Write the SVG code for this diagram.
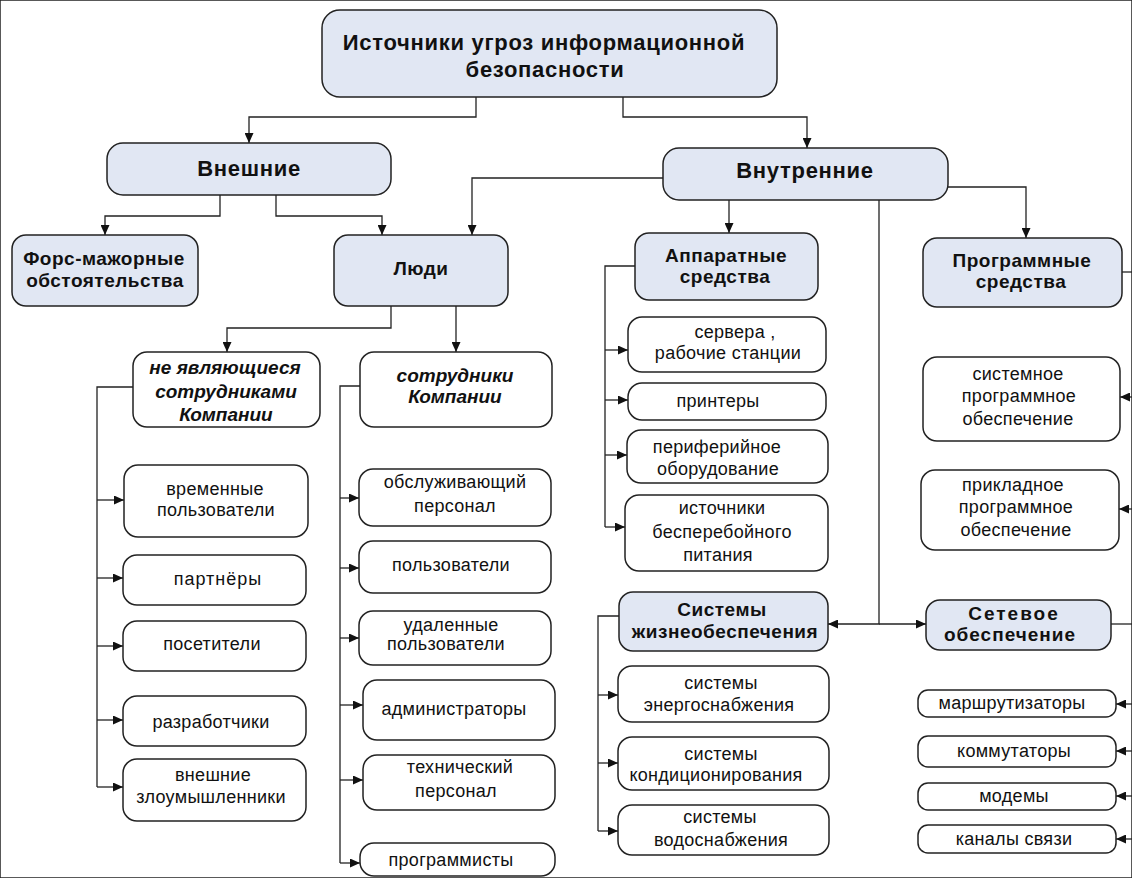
<svg xmlns="http://www.w3.org/2000/svg" width="1132" height="878" viewBox="0 0 1132 878">
<defs>
<marker id="ah" markerUnits="userSpaceOnUse" markerWidth="11" markerHeight="9" refX="10" refY="4.5" orient="auto">
<path d="M0,0 L10,4.5 L0,9 z" fill="#111"/>
</marker>
<style>
rect{stroke:#222;stroke-width:1.5}
.b{fill:#e1e7f3}
.w{fill:#fff}
text{font-family:"Liberation Sans",Arial,sans-serif;fill:#111;text-anchor:middle}
.t{font-size:18px;letter-spacing:0.3px}
.h{font-size:19px;font-weight:bold;letter-spacing:0.5px}
.H{font-size:22px;font-weight:bold;letter-spacing:0.7px}
.i{font-size:19px;font-weight:bold;font-style:italic}
#connectors path{fill:none;stroke:#222;stroke-width:1.3}
#connectors .a{marker-end:url(#ah)}
</style>
</defs>
<rect width="1132" height="878" fill="#fff" stroke="none"/>

<g id="connectors">
<path class="a" d="M476,97 V117 H249 V143"/>
<path class="a" d="M623,97 V117 H807 V148"/>
<path class="a" d="M220,195 V216 H105 V235"/>
<path class="a" d="M276,195 V216 H382 V235"/>
<path class="a" d="M663,178 H472 V235"/>
<path class="a" d="M729,200 V233"/>
<path class="a" d="M948,187 H1026 V238"/>
<path class="a" d="M879,200 V624 H828"/>
<path class="a" d="M879,624 H926"/>
<path class="a" d="M391,306 V328 H227 V352"/>
<path class="a" d="M456,306 V352"/>
<path d="M133,387 H97 V787"/>
<path class="a" d="M97,500 H124"/>
<path class="a" d="M97,578 H123"/>
<path class="a" d="M97,646 H123"/>
<path class="a" d="M97,720 H123"/>
<path class="a" d="M97,787 H123"/>
<path d="M360,386 H340 V863"/>
<path class="a" d="M340,498 H359"/>
<path class="a" d="M340,568 H359"/>
<path class="a" d="M340,638 H359"/>
<path class="a" d="M340,705 H363"/>
<path class="a" d="M340,780 H363"/>
<path class="a" d="M340,863 H360"/>
<path d="M635,266 H605 V527"/>
<path class="a" d="M605,350 H628"/>
<path class="a" d="M605,400 H628"/>
<path class="a" d="M605,455 H627"/>
<path class="a" d="M605,527 H625"/>
<path d="M619,616 H598 V831"/>
<path class="a" d="M598,695 H618"/>
<path class="a" d="M598,763 H618"/>
<path class="a" d="M598,831 H618"/>
<path d="M1122,272 H1132"/>
<path class="a" d="M1132,397 H1120"/>
<path class="a" d="M1132,509 H1119"/>
<path d="M1111,624 H1132"/>
<path class="a" d="M1132,704 H1116"/>
<path class="a" d="M1132,751 H1116"/>
<path class="a" d="M1132,796 H1116"/>
<path class="a" d="M1132,839 H1116"/>
</g>

<g id="root"><rect class="b" x="322" y="10" width="455" height="87" rx="18"/>
<text class="H" x="544" y="50">Источники угроз информационной</text>
<text class="H" x="545" y="77">безопасности</text></g>

<g id="vneshnie"><rect class="b" x="107" y="143" width="284" height="52" rx="16"/>
<text class="H" x="249" y="176">Внешние</text></g>

<g id="vnutrennie"><rect class="b" x="663" y="148" width="285" height="52" rx="16"/>
<text class="H" x="805" y="178">Внутренние</text></g>

<g id="fors"><rect class="b" x="12" y="235" width="186" height="71" rx="14"/>
<text class="h" x="104" y="265">Форс-мажорные</text>
<text class="h" x="105" y="287">обстоятельства</text></g>

<g id="lyudi"><rect class="b" x="334" y="235" width="174" height="71" rx="14"/>
<text class="h" x="421" y="275">Люди</text></g>

<g id="apparatnye"><rect class="b" x="635" y="233" width="183" height="67" rx="14"/>
<text class="h" x="726" y="262">Аппаратные</text>
<text class="h" x="725" y="283">средства</text></g>

<g id="programmnye"><rect class="b" x="923" y="238" width="199" height="69" rx="14"/>
<text class="h" x="1022" y="267">Программные</text>
<text class="h" x="1021" y="288">средства</text></g>

<g id="zhizn"><rect class="b" x="619" y="592" width="209" height="59" rx="14"/>
<text class="h" x="722" y="616">Системы</text>
<text class="h" x="725" y="638">жизнеобеспечения</text></g>

<g id="setevoe"><rect class="b" x="926" y="600" width="185" height="50" rx="14"/>
<text class="h" x="1014" y="620" style="letter-spacing:2px">Сетевое</text>
<text class="h" x="1010" y="641" style="letter-spacing:1px">обеспечение</text></g>

<g id="ne-sotr"><rect class="w" x="133" y="352" width="187" height="75" rx="14"/>
<text class="i" x="225" y="374">не являющиеся</text>
<text class="i" x="226" y="398">сотрудниками</text>
<text class="i" x="226" y="421">Компании</text></g>

<g id="sotr"><rect class="w" x="360" y="352" width="192" height="75" rx="14"/>
<text class="i" x="455" y="382">сотрудники</text>
<text class="i" x="455" y="403">Компании</text></g>

<g id="vremennye"><rect class="w" x="124" y="465" width="184" height="72" rx="14"/>
<text class="t" x="215" y="495">временные</text>
<text class="t" x="216" y="516">пользователи</text></g>

<g id="partnery"><rect class="w" x="123" y="555" width="183" height="50" rx="14"/>
<text class="t" x="218" y="585" style="letter-spacing:1px">партнёры</text></g>

<g id="posetiteli"><rect class="w" x="123" y="621" width="183" height="50" rx="14"/>
<text class="t" x="212" y="650">посетители</text></g>

<g id="razrabotchiki"><rect class="w" x="123" y="696" width="183" height="50" rx="14"/>
<text class="t" x="211" y="728">разработчики</text></g>

<g id="zloum"><rect class="w" x="123" y="759" width="183" height="62" rx="14"/>
<text class="t" x="213" y="781">внешние</text>
<text class="t" x="211" y="803">злоумышленники</text></g>

<g id="obsl"><rect class="w" x="359" y="469" width="192" height="57" rx="14"/>
<text class="t" x="455" y="488">обслуживающий</text>
<text class="t" x="455" y="512">персонал</text></g>

<g id="polz"><rect class="w" x="359" y="541" width="192" height="52" rx="14"/>
<text class="t" x="451" y="571">пользователи</text></g>

<g id="udal"><rect class="w" x="359" y="611" width="192" height="54" rx="14"/>
<text class="t" x="451" y="631">удаленные</text>
<text class="t" x="446" y="650">пользователи</text></g>

<g id="admin"><rect class="w" x="363" y="680" width="192" height="60" rx="14"/>
<text class="t" x="454" y="715">администраторы</text></g>

<g id="tech"><rect class="w" x="363" y="755" width="192" height="55" rx="14"/>
<text class="t" x="460" y="773">технический</text>
<text class="t" x="456" y="797">персонал</text></g>

<g id="progr"><rect class="w" x="360" y="843" width="195" height="33" rx="14"/>
<text class="t" x="451" y="866">программисты</text></g>

<g id="servera"><rect class="w" x="628" y="317" width="198" height="55" rx="14"/>
<text class="t" x="735" y="338">сервера ,</text>
<text class="t" x="728" y="359">рабочие станции</text></g>

<g id="printery"><rect class="w" x="628" y="383" width="198" height="37" rx="14"/>
<text class="t" x="718" y="407">принтеры</text></g>

<g id="periph"><rect class="w" x="627" y="430" width="201" height="53" rx="14"/>
<text class="t" x="717" y="453">периферийное</text>
<text class="t" x="718" y="475">оборудование</text></g>

<g id="ibp"><rect class="w" x="625" y="495" width="203" height="76" rx="14"/>
<text class="t" x="722" y="514">источники</text>
<text class="t" x="722" y="538">бесперебойного</text>
<text class="t" x="718" y="561">питания</text></g>

<g id="energo"><rect class="w" x="618" y="666" width="211" height="56" rx="14"/>
<text class="t" x="721" y="689">системы</text>
<text class="t" x="719" y="711">энергоснабжения</text></g>

<g id="kond"><rect class="w" x="618" y="737" width="211" height="53" rx="14"/>
<text class="t" x="721" y="760">системы</text>
<text class="t" x="716" y="781">кондиционирования</text></g>

<g id="vodo"><rect class="w" x="618" y="805" width="211" height="50" rx="14"/>
<text class="t" x="720" y="823">системы</text>
<text class="t" x="721" y="846">водоснабжения</text></g>

<g id="sistemnoe"><rect class="w" x="923" y="357" width="197" height="84" rx="14"/>
<text class="t" x="1018" y="380">системное</text>
<text class="t" x="1019" y="402">программное</text>
<text class="t" x="1018" y="425">обеспечение</text></g>

<g id="prikladnoe"><rect class="w" x="921" y="470" width="198" height="80" rx="14"/>
<text class="t" x="1013" y="491">прикладное</text>
<text class="t" x="1016" y="513">программное</text>
<text class="t" x="1016" y="536">обеспечение</text></g>

<g id="marshr"><rect class="w" x="918" y="690" width="198" height="27" rx="10"/>
<text class="t" x="1012" y="709">маршрутизаторы</text></g>

<g id="kommut"><rect class="w" x="918" y="736" width="198" height="31" rx="10"/>
<text class="t" x="1014" y="757">коммутаторы</text></g>

<g id="modemy"><rect class="w" x="918" y="783" width="198" height="27" rx="10"/>
<text class="t" x="1014" y="802">модемы</text></g>

<g id="kanaly"><rect class="w" x="918" y="825" width="198" height="28" rx="10"/>
<text class="t" x="1014" y="845">каналы связи</text></g>
</svg>
